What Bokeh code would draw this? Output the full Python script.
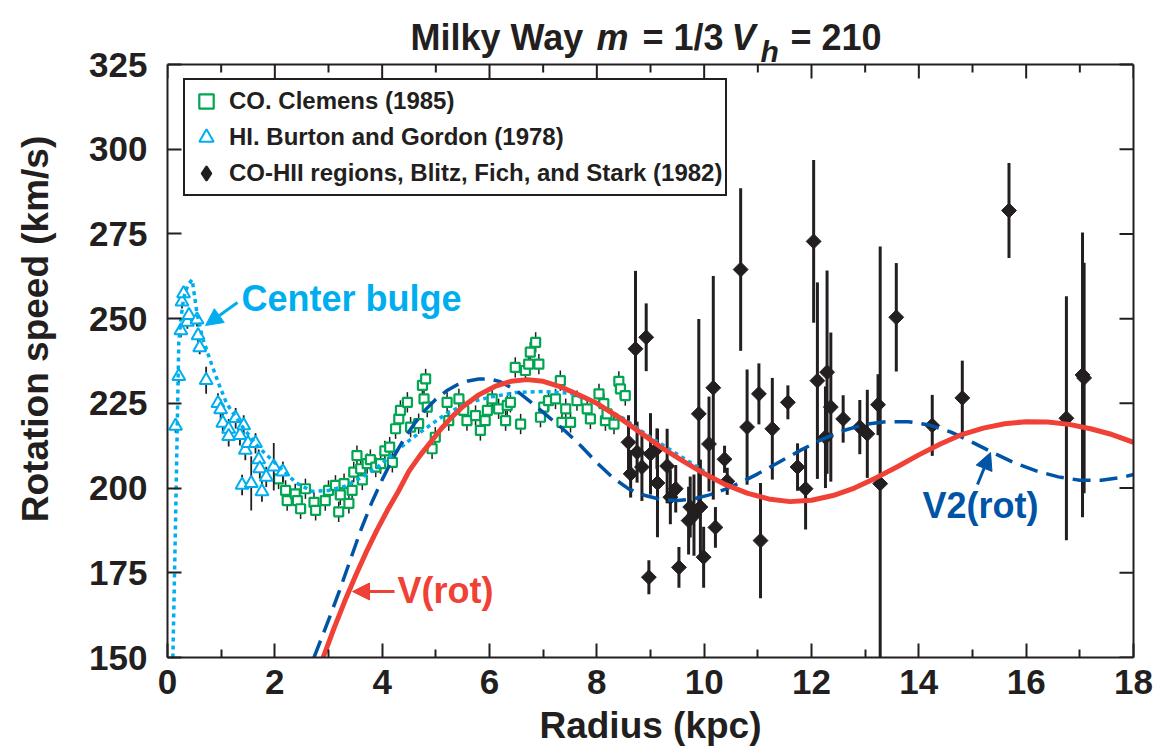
from bokeh.plotting import figure
from bokeh.models import (LinearAxis, FixedTicker, Range1d, Label, Arrow, NormalHead,
                          Legend, LegendItem, Span)
from bokeh.embed import file_html
from bokeh.resources import INLINE
import numpy as np

FONT = "Liberation Sans"
BLACK = "#231F20"
GREEN = "#00A651"
CYAN = "#00AEEF"
RED = "#EF4136"
BLUE = "#0054A6"

# ---------------- data ----------------
x_ticks = [0, 2, 4, 6, 8, 10, 12, 14, 16, 18]
x_minor = [1, 3, 5, 7, 9, 11, 13, 15, 17]
y_ticks = [150, 175, 200, 225, 250, 275, 300, 325]

# CO. Clemens (1985)
co_r = [2.07, 2.20, 2.23, 2.38, 2.42, 2.48, 2.57, 2.73, 2.76, 2.94, 3.00, 3.13, 3.19, 3.22,
        3.29, 3.38, 3.44, 3.47, 3.53, 3.60, 3.63, 3.72, 3.78, 3.88, 3.97, 4.05, 4.14, 4.19,
        4.25, 4.31, 4.34, 4.47, 4.53, 4.68, 4.75, 4.81, 4.78, 4.84, 4.93, 4.99, 5.21, 5.24,
        5.43, 5.52, 5.58, 5.74, 5.83, 5.92, 5.96, 6.05, 6.17, 6.30, 6.33, 6.39, 6.48, 6.58,
        6.67, 6.73, 6.76, 6.86, 6.92, 6.95, 7.01, 7.10, 7.23, 7.32, 7.35, 7.42, 7.51, 7.63,
        7.82, 7.88, 8.04, 8.13, 8.16, 8.19, 8.32, 8.41, 8.44, 8.53]
co_v = [202.7, 199.3, 196.3, 198.3, 196.3, 193.9, 199.8, 195.8, 193.4, 196.3, 199.3, 200.8, 193.0, 198.0,
        201.3, 195.5, 199.3, 204.7, 209.6, 205.7, 202.4, 207.2, 208.4, 206.2, 207.2, 211.0, 212.1, 207.6,
        217.5, 220.4, 222.9, 225.3, 218.0, 219.0, 230.3, 232.2, 226.3, 223.9, 211.6, 215.0, 225.3, 219.9,
        226.3, 222.9, 219.9, 221.4, 217.0, 219.9, 222.9, 226.3, 223.4, 219.9, 224.4, 225.3, 235.6, 218.9,
        234.7, 236.6, 240.1, 243.0, 236.6, 220.9, 223.9, 225.8, 226.3, 231.7, 219.4, 223.4, 219.4, 225.8,
        223.4, 220.4, 227.8, 224.9, 219.9, 221.9, 218.9, 231.5, 229.3, 227.3]
co_err = [3] * len(co_r)

# HI. Burton and Gordon (1978)
hi_r = [0.15, 0.21, 0.25, 0.27, 0.30, 0.37, 0.40, 0.55, 0.57, 0.60, 0.72, 0.94, 0.99, 1.03, 1.14,
        1.14, 1.27, 1.35, 1.39, 1.42, 1.45, 1.50, 1.56, 1.64, 1.70, 1.72, 1.76, 1.84, 1.98, 2.15]
hi_v = [218.3, 233.0, 246.5, 255.0, 257.4, 249.0, 251.0, 249.7, 245.0, 241.5, 231.8, 225.0, 223.2, 219.2, 217.4,
        215.3, 220.6, 215.6, 200.9, 218.5, 211.2, 213.2, 201.4, 213.2, 208.4, 205.8, 199.0, 203.3, 206.3, 204.8]
hi_err = [2, 2, 2, 2, 2, 2, 2, 2, 2, 2, 4, 3, 3, 3, 3,
          3, 3, 3, 3, 3, 3, 3, 8, 3, 3, 3, 3, 3, 7, 3]

# CO-HII regions, Blitz, Fich, and Stark (1982)
hii_r = [8.59, 8.63, 8.72, 8.75, 8.84, 8.92, 8.97, 9.00, 9.12, 9.13, 9.31, 9.37, 9.47, 9.53, 9.71,
         9.74, 9.81, 9.90, 9.93, 9.99, 10.09, 10.17, 10.21, 10.38, 10.43, 10.68, 10.80, 11.02, 11.05,
         11.27, 11.56, 11.74, 11.89, 12.04, 12.11, 12.26, 12.29, 12.36, 12.59, 12.90, 13.04, 13.24,
         13.28, 13.58, 14.25, 14.81, 15.68, 16.75, 17.05, 17.08]
hii_v = [213.5, 204.2, 241.1, 210.6, 206.2, 244.5, 173.7, 210.1, 211.6, 201.5, 206.5, 197.3, 199.8, 176.6, 190.4,
         194.4, 192.0, 221.9, 194.4, 179.6, 213.0, 229.6, 188.4, 208.5, 202.0, 264.5, 218.0, 227.8, 184.5,
         217.5, 225.3, 206.2, 199.8, 272.8, 231.7, 215.0, 234.2, 223.9, 220.4, 218.0, 216.0, 224.6,
         201.3, 250.4, 218.5, 226.6, 281.9, 220.6, 233.4, 232.5]
hii_err = [8, 7, 23, 9, 10, 10, 5, 12, 6, 16, 11, 8, 7, 6, 10,
           9, 12, 28, 14, 9, 14, 33, 6, 4, 4, 24, 17, 9, 17,
           15, 5, 7, 12, 24, 29, 15, 30, 22, 7, 8, 13, 9,
           70, 16, 9, 11, 14, 36, 42, 34]

# model curves
bulge_r = [0.10, 0.15, 0.21, 0.25, 0.30, 0.38, 0.46, 0.55, 0.65, 0.80, 0.95, 1.10, 1.40, 1.70, 2.10,
           2.40, 2.70, 3.00, 3.30, 3.60, 3.90, 4.20, 4.50, 4.80, 5.20, 5.60, 6.00, 6.50, 7.00, 7.50,
           8.00, 8.50, 9.00, 9.50, 10.00]
bulge_v = [150.0, 190.0, 243.0, 250.0, 256.0, 260.0, 261.5, 251.5, 244.5, 237.5, 231.0, 225.0, 218.0, 212.0, 206.0,
           201.5, 199.0, 199.3, 200.5, 203.0, 206.0, 210.0, 214.0, 217.5, 222.0, 225.2, 226.8, 228.2, 228.5, 228.0,
           225.0, 220.5, 215.0, 210.0, 205.0]

v2_r = [2.73, 3.00, 3.20, 3.40, 3.60, 3.80, 4.00, 4.20, 4.40, 4.60, 4.80, 5.00, 5.20, 5.40, 5.60, 5.80,
        6.00, 6.20, 6.50, 6.80, 7.10, 7.40, 7.70, 8.00, 8.30, 8.60, 8.90, 9.20, 9.50, 9.80, 10.10, 10.40,
        10.70, 11.00, 11.40, 11.80, 12.20, 12.60, 13.00, 13.40, 13.80, 14.20, 14.60, 15.00, 15.40, 15.80,
        16.20, 16.60, 17.00, 17.40, 17.80, 18.00]
v2_v = [150.0, 161.0, 169.5, 178.5, 187.5, 195.5, 202.5, 208.8, 214.3, 219.0, 223.0, 226.2, 228.7, 230.5, 231.6, 232.2,
        232.2, 231.4, 228.8, 225.0, 221.0, 217.0, 212.5, 207.5, 203.0, 199.7, 197.8, 196.6, 196.3, 196.8, 198.0, 199.7,
        201.8, 204.2, 207.7, 211.2, 214.4, 217.0, 218.8, 219.6, 219.6, 218.6, 216.5, 213.5, 210.3, 207.3,
        205.0, 203.3, 202.3, 202.3, 203.2, 204.0]

vrot_r = [2.90, 3.10, 3.30, 3.50, 3.70, 3.90, 4.10, 4.30, 4.50, 4.70, 4.90, 5.10, 5.30, 5.50, 5.80, 6.10,
          6.40, 6.70, 7.00, 7.30, 7.60, 8.00, 8.40, 8.80, 9.20, 9.60, 10.00, 10.40, 10.80, 11.20, 11.60,
          12.00, 12.40, 12.80, 13.20, 13.60, 14.00, 14.40, 14.80, 15.20, 15.60, 16.00, 16.40, 16.80,
          17.20, 17.60, 18.00]
vrot_v = [150.0, 158.5, 166.5, 174.0, 181.0, 187.5, 193.5, 199.0, 205.0, 209.5, 213.5, 217.5, 221.0, 224.0, 227.5, 230.0,
          231.5, 232.0, 231.5, 230.0, 228.0, 225.0, 221.0, 216.5, 212.0, 208.0, 204.3, 201.0, 198.5, 196.8, 196.0,
          196.4, 197.8, 200.0, 203.0, 206.3, 209.8, 213.0, 215.8, 217.7, 219.0, 219.6, 219.5, 218.8,
          217.5, 215.8, 213.5]

# ---------------- figure ----------------
# the frame is extended up to the page top so the title can be drawn as text inside it;
# the chart box itself spans 150..325 km/s.
FL, FR, FT, FB = 167, 1133, 64, 657   # box edges in pixels
Y0, Y1 = 150.0, 325.0
YTOP = Y0 + FB * (Y1 - Y0) / (FB - FT)


def dx(px):
    return (px - FL) * 18.0 / (FR - FL)


def dy(py):
    return Y0 + (FB - py) * (Y1 - Y0) / (FB - FT)


PX_Y = (Y1 - Y0) / (FB - FT)   # km/s per pixel
PX_X = 18.0 / (FR - FL)        # kpc per pixel

p = figure(width=1159, height=752, x_range=Range1d(0, 18), y_range=Range1d(Y0, YTOP),
           output_backend="svg", toolbar_location=None,
           min_border_left=FL, min_border_right=1159 - FR, min_border_top=0, min_border_bottom=752 - FB)
p.grid.visible = False
p.outline_line_color = None
p.background_fill_color = "white"
p.border_fill_color = "white"


def style_axis(ax):
    ax.axis_line_color = BLACK
    ax.axis_line_width = 2
    ax.major_tick_line_color = BLACK
    ax.minor_tick_line_color = BLACK
    ax.major_tick_line_width = 2
    ax.minor_tick_line_width = 2
    ax.major_tick_in = 14
    ax.major_tick_out = 0
    ax.minor_tick_in = 8
    ax.minor_tick_out = 0
    ax.major_label_text_font = FONT
    ax.major_label_text_font_style = "bold"
    ax.major_label_text_font_size = "35px"
    ax.major_label_text_color = BLACK
    ax.axis_label_text_font = FONT
    ax.axis_label_text_font_style = "bold"
    ax.axis_label_text_font_size = "37px"
    ax.axis_label_text_color = BLACK


p.xaxis.ticker = FixedTicker(ticks=x_ticks, minor_ticks=x_minor)
p.yaxis.ticker = FixedTicker(ticks=y_ticks, minor_ticks=[])
p.yaxis.bounds = (Y0, Y1)
style_axis(p.xaxis[0])
style_axis(p.yaxis[0])
p.xaxis.axis_label = "Radius (kpc)"
p.yaxis.axis_label = "Rotation speed (km/s)"
p.xaxis.major_label_standoff = 12
p.yaxis.major_label_standoff = 20
p.xaxis.axis_label_standoff = 8
p.yaxis.axis_label_standoff = 30

right = LinearAxis(ticker=FixedTicker(ticks=[], minor_ticks=[]), bounds=(Y0, Y1))
right.axis_line_color = BLACK
right.axis_line_width = 2
right.major_label_standoff = 0
p.add_layout(right, "right")

# top edge of the chart box and the inward ticks on the top and right edges
p.add_layout(Span(location=Y1, dimension="width", line_color=BLACK, line_width=2))
p.segment(x0=x_ticks, x1=x_ticks, y0=[Y1 - 14 * PX_Y] * len(x_ticks), y1=[Y1] * len(x_ticks),
          line_color=BLACK, line_width=2)
p.segment(x0=x_minor, x1=x_minor, y0=[Y1 - 8 * PX_Y] * len(x_minor), y1=[Y1] * len(x_minor),
          line_color=BLACK, line_width=2)
p.segment(x0=[18 - 14 * PX_X] * len(y_ticks), x1=[18] * len(y_ticks), y0=y_ticks, y1=y_ticks,
          line_color=BLACK, line_width=2)

# ---------------- data marks ----------------
co_lo = [v - e for v, e in zip(co_v, co_err)]
co_hi = [v + e for v, e in zip(co_v, co_err)]
p.segment(x0=co_r, y0=co_lo, x1=co_r, y1=co_hi, line_color=BLACK, line_width=1.5)
co_ren = p.scatter(co_r, co_v, marker="square", size=9, fill_color="white",
                   line_color=GREEN, line_width=2.2)

hi_lo = [v - e for v, e in zip(hi_v, hi_err)]
hi_hi = [v + e for v, e in zip(hi_v, hi_err)]
p.segment(x0=hi_r, y0=hi_lo, x1=hi_r, y1=hi_hi, line_color=BLACK, line_width=1.8)
hi_ren = p.scatter(hi_r, hi_v, marker="triangle", size=13, fill_color="white",
                   line_color=CYAN, line_width=2)

hii_lo = [max(v - e, Y0) for v, e in zip(hii_v, hii_err)]
hii_hi = [v + e for v, e in zip(hii_v, hii_err)]
p.segment(x0=hii_r, y0=hii_lo, x1=hii_r, y1=hii_hi, line_color=BLACK, line_width=3)
p.scatter(hii_r, hii_v, marker="square", angle=np.pi / 4, size=10.5,
          fill_color=BLACK, line_color=BLACK, line_width=1)
# legend-only diamond (no visible point)
hii_leg = p.scatter(x=[np.nan], y=[np.nan], marker="diamond", fill_color=BLACK,
                    line_color=BLACK, line_width=2)

# ---------------- model curves ----------------
p.line(bulge_r, bulge_v, line_color=CYAN, line_width=3.5, line_dash="4 4")
p.line(v2_r, v2_v, line_color=BLUE, line_width=3.5, line_dash="18 9")
p.line(vrot_r, vrot_v, line_color=RED, line_width=5)


# ---------------- annotations ----------------
def add_text(text, px, py, color, size="36px", style="bold", baseline="middle"):
    p.add_layout(Label(x=dx(px), y=dy(py), text=text, text_font=FONT, text_font_style=style,
                       text_font_size=size, text_color=color, text_align="left",
                       text_baseline=baseline))


def add_arrow(x0, y0, x1, y1, color):
    p.add_layout(Arrow(end=NormalHead(size=17, fill_color=color, line_color=color),
                       x_start=dx(x0), y_start=dy(y0), x_end=dx(x1), y_end=dy(y1),
                       line_color=color, line_width=3))


add_text("Center bulge", 241, 298, CYAN)
add_arrow(237, 302, 205, 325, CYAN)
add_text("V(rot)", 397, 590, RED)
add_arrow(394, 591, 352, 591, RED)
add_text("V2(rot)", 922, 505, BLUE)
add_arrow(977, 484, 990, 452, BLUE)

# title in pieces (italic m, V and subscript h)
add_text("Milky Way", 410, 37, BLACK, size="36px", baseline="alphabetic")
add_text("m", 596, 37, BLACK, size="36px", style="bold italic", baseline="alphabetic")
add_text("= 1/3", 642, 37, BLACK, size="36px", baseline="alphabetic")
add_text("V", 731, 37, BLACK, size="36px", style="bold italic", baseline="alphabetic")
add_text("h", 760, 51, BLACK, size="30px", style="bold italic", baseline="alphabetic")
add_text("= 210", 790, 37, BLACK, size="36px", baseline="alphabetic")

# ---------------- legend ----------------
legend = Legend(items=[LegendItem(label="CO. Clemens (1985)", renderers=[co_ren]),
                       LegendItem(label="HI. Burton and Gordon (1978)", renderers=[hi_ren]),
                       LegendItem(label="CO-HII regions, Blitz, Fich, and Stark (1982)", renderers=[hii_leg])],
                location=(16, FB - 196))
legend.label_text_font = FONT
legend.label_text_font_style = "bold"
legend.label_text_font_size = "24px"
legend.label_text_color = BLACK
legend.glyph_width = 36
legend.glyph_height = 36
legend.label_height = 36
legend.spacing = 0
legend.padding = 3
legend.margin = 0
legend.label_standoff = 5
legend.border_line_color = BLACK
legend.border_line_alpha = 1
legend.border_line_width = 2
legend.background_fill_color = "white"
legend.background_fill_alpha = 1
p.add_layout(legend)

open("out.html", "w").write(file_html(p, INLINE))
